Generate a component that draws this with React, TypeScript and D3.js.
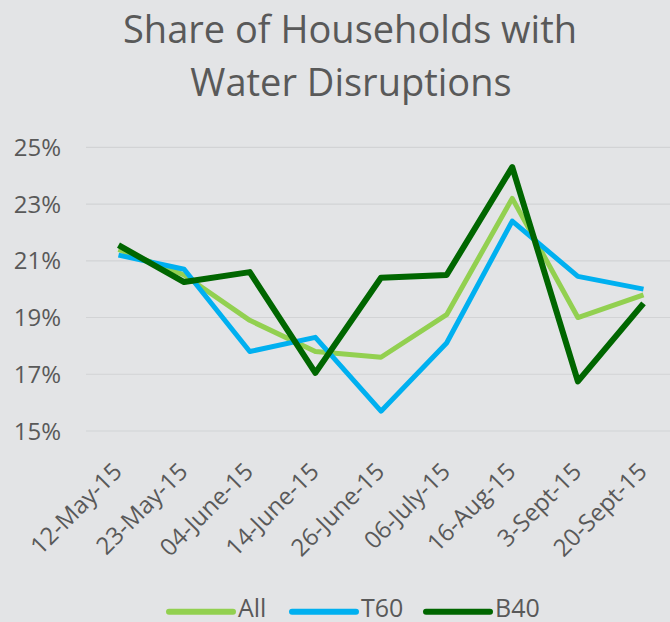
import React from "react";
import * as d3 from "d3";

const categories = ["12-May-15", "23-May-15", "04-June-15", "14-June-15", "26-June-15", "06-July-15", "16-Aug-15", "3-Sept-15", "20-Sept-15"];
const allValues = [21.4, 20.5, 18.9, 17.8, 17.6, 19.1, 23.2, 19.0, 19.8];
const t60Values = [21.2, 20.7, 17.8, 18.3, 15.7, 18.1, 22.4, 20.45, 20.0];
const b40Values = [21.55, 20.25, 20.6, 17.05, 20.4, 20.5, 24.3, 16.75, 19.5];
const yTicks = [15, 17, 19, 21, 23, 25];
const seriesNames = ["All", "T60", "B40"];
const seriesColors = ["#92D050", "#00B0F0", "#006600"];

const W = 670, H = 622;

export default function App() {
  const x = d3.scalePoint<string>().domain(categories).range([118.5, 643.5]);
  const y = d3.scaleLinear().domain([15, 25]).range([431, 147.3]);
  const line = d3.line<number>().x((_, i) => x(categories[i]) as number).y((d) => y(d));
  const series = [allValues, t60Values, b40Values];
  const font = "'Open Sans', 'Noto Sans', sans-serif";
  const legendX = [169, 292, 426];
  return (
    <svg width={W} height={H} style={{ position: "absolute", left: 0, top: 0 }} fontFamily={font}>
      <rect x={0} y={0} width={W} height={H} fill="#E3E4E6" />
      <text x={350} y={43} textAnchor="middle" fontSize={38} fill="#595959">Share of Households with</text>
      <text x={351} y={96} textAnchor="middle" fontSize={38} fill="#595959">Water Disruptions</text>
      {yTicks.map((t) => (
        <g key={t}>
          <line x1={86} x2={W} y1={y(t)} y2={y(t)} stroke="#D2D3D5" strokeWidth={1.2} />
          <text x={61} y={y(t)} dy="0.36em" textAnchor="end" fontSize={24} fill="#595959">{t}%</text>
        </g>
      ))}
      {categories.map((c) => (
        <text key={c} transform={`translate(${(x(c) as number) + 5},${473}) rotate(-45)`} textAnchor="end" fontSize={24} fill="#595959">{c}</text>
      ))}
      {series.map((s, i) => (
        <path key={i} d={line(s) || ""} fill="none" stroke={seriesColors[i]} strokeWidth={i === 2 ? 6 : 5} strokeLinejoin="round" />
      ))}
      {seriesNames.map((n, i) => (
        <g key={n}>
          <line x1={legendX[i]} x2={legendX[i] + 64} y1={611.7} y2={611.7} stroke={seriesColors[i]} strokeWidth={6} strokeLinecap="round" />
          <text x={legendX[i] + 69} y={617} fontSize={25} fill="#595959">{n}</text>
        </g>
      ))}
    </svg>
  );
}
